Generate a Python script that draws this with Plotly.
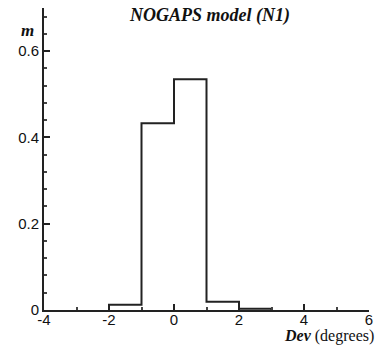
import plotly.graph_objects as go

# Data
bin_left = [-2, -1, 0, 1, 2]
bin_right = [-1, 0, 1, 2, 3]
freq = [0.012, 0.433, 0.535, 0.019, 0.003]

x_ticks = [-4, -2, 0, 2, 4, 6]
y_ticks = [0, 0.2, 0.4, 0.6]
y_tick_text = ["0", "0.2", "0.4", "0.6"]

# Build step outline from the histogram data
xs = [bin_left[0]]
ys = [0]
for l, r, v in zip(bin_left, bin_right, freq):
    xs += [l, r]
    ys += [v, v]
xs.append(bin_right[-1])
ys.append(0)

fig = go.Figure()
fig.add_trace(go.Scatter(x=xs, y=ys, mode="lines",
                         line=dict(color="#222222", width=2),
                         hoverinfo="skip", showlegend=False))

axis_font = dict(family="Liberation Sans, Arial, sans-serif", size=15, color="#111111")

fig.update_layout(
    width=381, height=345,
    margin=dict(l=44, r=8, t=8, b=35),
    plot_bgcolor="white", paper_bgcolor="white",
    showlegend=False,
    xaxis=dict(range=[-4, 6], tickvals=x_ticks, ticktext=[str(v) for v in x_ticks],
               ticks="inside", ticklen=6, tickwidth=1.5, tickcolor="#222",
               showline=True, linecolor="#222", linewidth=2,
               showgrid=False, zeroline=False, tickfont=axis_font,
               minor=dict(ticks="inside", dtick=1, ticklen=3, tickcolor="#444", showgrid=False),
               ticklabelstandoff=-5),
    yaxis=dict(range=[0, 0.7], tickvals=y_ticks, ticktext=y_tick_text,
               ticks="inside", ticklen=6, tickwidth=1.5, tickcolor="#222",
               showline=True, linecolor="#222", linewidth=2,
               showgrid=False, zeroline=False, tickfont=axis_font,
               minor=dict(ticks="inside", dtick=0.04, ticklen=3, tickcolor="#444", showgrid=False)),
)

serif = "Liberation Serif, Times New Roman, serif"
fig.add_annotation(text="<b><i>NOGAPS model (N1)</i></b>", xref="paper", yref="paper",
                   x=(212 - 44) / 329, y=(310 - 15) / 302, xanchor="center", yanchor="middle",
                   showarrow=False, font=dict(family=serif, size=18, color="#111"))
fig.add_annotation(text="<b><i>m</i></b>", xref="paper", yref="paper",
                   x=(27 - 44) / 329, y=(310 - 31) / 302, xanchor="center", yanchor="middle",
                   showarrow=False, font=dict(family=serif, size=17, color="#111"))
fig.add_annotation(text="<b><i>Dev</i></b> (degrees)", xref="paper", yref="paper",
                   x=(379 - 44) / 329, y=(310 - 336) / 302, xanchor="right", yanchor="middle",
                   showarrow=False, borderpad=0, font=dict(family=serif, size=16, color="#111"))

fig.write_html("out.html")
